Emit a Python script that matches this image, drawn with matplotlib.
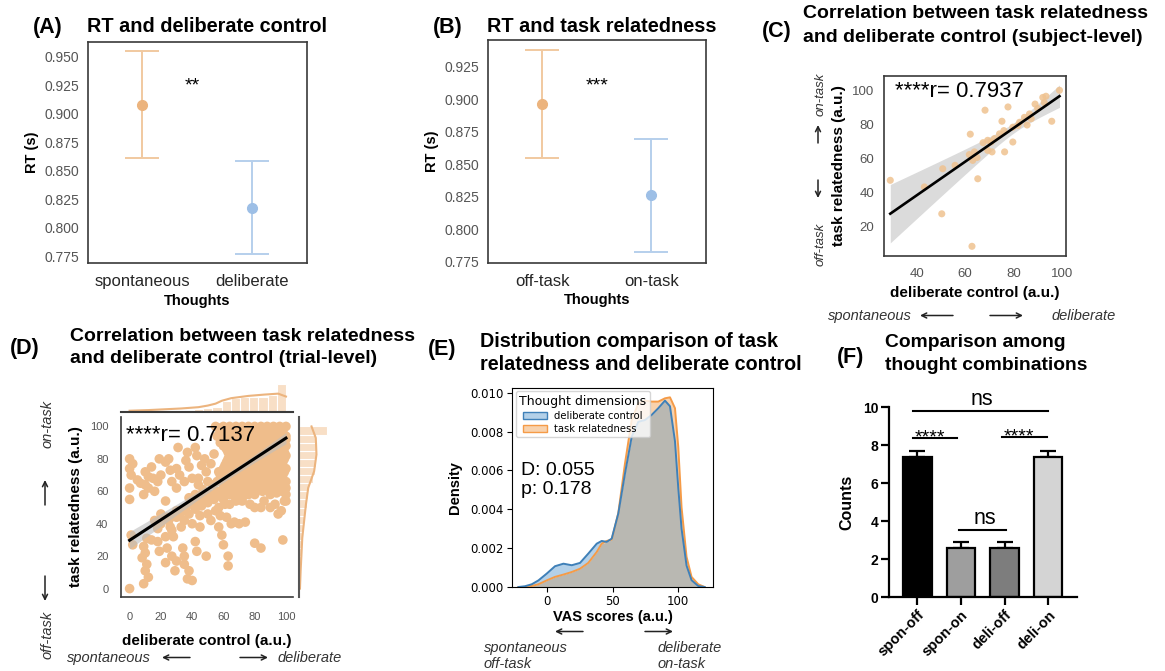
import numpy as np
import matplotlib.pyplot as plt
from matplotlib.patches import Patch, FancyArrowPatch

plt.rcParams['font.family'] = ['Liberation Sans', 'DejaVu Sans']

W, H = 1165, 671

# (A) RT split by deliberate control: mean and 95% CI
a_labels = ['spontaneous', 'deliberate']
a_mean = [0.908, 0.817]
a_lo = [0.861, 0.777]
a_hi = [0.955, 0.858]

# (B) RT split by task relatedness
b_labels = ['off-task', 'on-task']
b_mean = [0.896, 0.826]
b_lo = [0.8545, 0.7825]
b_hi = [0.938, 0.869]

# (C) subject-level means
c_x = [29.1, 43.2, 50.8, 50.4, 55.9, 62.2, 62.9, 61.8, 63.9, 63.2, 65.3, 65.0, 68.3,
       67.5, 69.4, 70.8, 69.4, 71.2, 76.4, 75.3, 77.8, 74.3, 76.1, 79.8, 79.8, 81.9,
       85.7, 84.6, 86.7, 89.0, 90.1, 92.2, 93.5, 95.9, 99.1, 87.4, 92.8, 72.2, 82.6]
c_y = [47.3, 43.4, 54.1, 27.6, 56.1, 74.4, 8.5, 62.4, 64.0, 59.0, 48.2, 60.7, 88.5,
       69.4, 70.8, 69.8, 64.9, 64.0, 64.0, 82.0, 90.4, 74.6, 76.5, 69.8, 78.5, 79.5,
       79.8, 84.3, 86.3, 92.1, 89.5, 96.0, 96.7, 82.0, 100.2, 83.5, 93.0, 71.8, 81.4]

# (D) trial-level ratings (deliberate control, task relatedness)
d_points = [
    (0, 80), (2, 77), (0, 74), (1, 70), (0, 62), (0, 55), (10, 72), (12, 69), (14, 75), (7, 65),
    (19, 80), (23, 78), (25, 80), (31, 87), (37, 84), (42, 87), (43, 82), (36, 79), (30, 74),
    (32, 70), (27, 66), (18, 66), (16, 60), (10, 64), (9, 58), (23, 54), (30, 62), (35, 66),
    (44, 64), (42, 58), (49, 72), (48, 80), (54, 83), (57, 72), (61, 72), (5, 67), (12, 62),
    (15, 68), (20, 70), (26, 73), (38, 75), (40, 68), (46, 76), (52, 77),
    (1, 33), (2, 27), (9, 26), (11, 31), (14, 30), (18, 29), (10, 22), (8, 19), (11, 15),
    (10, 11), (12, 7), (9, 3), (0, 0), (19, 23), (23, 16), (24, 25), (27, 20), (28, 32),
    (30, 17), (29, 11), (34, 25), (35, 20), (35, 15), (37, 6), (40, 5), (38, 11), (42, 29),
    (43, 23), (49, 20), (45, 38), (30, 44), (27, 36), (35, 42), (20, 46), (25, 42), (18, 37),
    (16, 42), (23, 32),
    (57, 38), (59, 33), (62, 44), (65, 40), (67, 41), (70, 40), (74, 41), (57, 50), (61, 52),
    (60, 27), (63, 20), (63, 14), (80, 28), (84, 25), (98, 30), (80, 50), (84, 50), (90, 50),
    (93, 52), (95, 46), (97, 48), (99, 54), (98, 60), (94, 59), (86, 54), (74, 58), (77, 52),
    (20, 40), (24, 44), (28, 45), (30, 48), (33, 47), (36, 50), (38, 46), (40, 52), (42, 49),
    (44, 54), (46, 51), (48, 56), (50, 53), (52, 58), (54, 55), (56, 60), (58, 57), (60, 62),
    (62, 59), (40, 40), (45, 45), (50, 46), (52, 42), (55, 48), (58, 45), (60, 55), (64, 52),
    (66, 58), (68, 55), (38, 56), (33, 38), (26, 38), (47, 61), (53, 64), (50, 66), (44, 68),
    (56, 66), (70, 60), (72, 56),
    (55, 100), (60, 100), (64, 100), (68, 100), (72, 100), (76, 100), (80, 100), (84, 100),
    (88, 100), (92, 100), (96, 100), (100, 100),
    (57, 99), (61, 99), (65, 99), (69, 99), (73, 99), (77, 99), (81, 99), (85, 99), (89, 99),
    (93, 99), (97, 99),
    (58, 97), (62, 97), (66, 97), (70, 97), (74, 97), (78, 97), (82, 97), (86, 97), (90, 97),
    (94, 97), (98, 97),
    (56, 94), (60, 94), (65, 94), (69, 94), (73, 94), (77, 94), (81, 94), (85, 94), (89, 94),
    (93, 94), (97, 94), (100, 94),
    (60, 92), (64, 92), (68, 92), (72, 92), (76, 92), (80, 92), (84, 92), (88, 92), (92, 92),
    (96, 92), (100, 92),
    (58, 90), (63, 90), (67, 90), (71, 90), (75, 90), (79, 90), (83, 90), (87, 90), (91, 90),
    (95, 90), (99, 90),
    (60, 88), (64, 88), (68, 88), (72, 88), (76, 88), (80, 88), (84, 88), (88, 88), (92, 88),
    (96, 88), (100, 88),
    (62, 86), (66, 86), (70, 86), (74, 86), (78, 86), (82, 86), (86, 86), (90, 86), (94, 86),
    (98, 86),
    (63, 84), (67, 84), (71, 84), (75, 84), (79, 84), (83, 84), (87, 84), (91, 84), (95, 84),
    (99, 84),
    (64, 82), (68, 82), (72, 82), (76, 82), (80, 82), (84, 82), (88, 82), (92, 82), (96, 82),
    (100, 82),
    (63, 80), (67, 80), (71, 80), (75, 80), (79, 80), (83, 80), (87, 80), (91, 80), (95, 80),
    (99, 80),
    (62, 78), (66, 78), (70, 78), (74, 78), (78, 78), (82, 78), (86, 78), (90, 78), (94, 78),
    (98, 78),
    (61, 76), (65, 76), (69, 76), (73, 76), (77, 76), (81, 76), (85, 76), (89, 76), (93, 76),
    (97, 76),
    (60, 74), (64, 74), (68, 74), (72, 74), (76, 74), (80, 74), (84, 74), (88, 74), (92, 74),
    (96, 74), (100, 74),
    (59, 72), (63, 72), (67, 72), (71, 72), (75, 72), (79, 72), (83, 72), (87, 72), (91, 72),
    (95, 72), (99, 72),
    (58, 70), (62, 70), (66, 70), (70, 70), (74, 70), (78, 70), (82, 70), (86, 70), (90, 70),
    (94, 70), (98, 70),
    (61, 68), (65, 68), (69, 68), (73, 68), (77, 68), (81, 68), (85, 68), (89, 68), (93, 68),
    (97, 68),
    (60, 66), (64, 66), (68, 66), (72, 66), (76, 66), (80, 66), (84, 66), (88, 66), (92, 66),
    (96, 66), (100, 66),
    (62, 64), (66, 64), (70, 64), (74, 64), (78, 64), (82, 64), (86, 64), (90, 64), (94, 64),
    (98, 64),
    (62, 62), (66, 62), (70, 62), (74, 62), (78, 62), (82, 62), (86, 62), (90, 62), (95, 62),
    (100, 62),
    (65, 60), (69, 60), (73, 60), (77, 60), (85, 60), (95, 60), (99, 60),
    (64, 58), (68, 58), (72, 58), (76, 58), (80, 58), (90, 58), (100, 58),
    (68, 54), (72, 54), (100, 54),
]
# fitted trial-level line (intercept, slope); most trials overlap in the upper-right cloud
d_fit = (29.8, 0.63)

# (D) marginal histograms (17 bins on x, 20 bins on y) and their kde outlines
top_counts = [5, 3, 3, 4, 4, 5, 6, 7, 10, 15, 32, 42, 47, 45, 47, 52, 87]
right_counts = [5, 4, 5, 6, 7, 8, 10, 12, 14, 16, 22, 25, 30, 40, 48, 50, 52, 50, 52, 84]
top_kde_x = [0, 12, 33, 44, 50, 55, 59, 65, 76, 86, 95, 100]
top_kde_h = [3, 5, 10, 14, 19, 25, 34, 42, 49, 53, 56, 47]
right_kde_y = [0, 10.7, 31.2, 51.7, 62.1, 72.4, 82.7, 92.9, 100]
right_kde_w = [2, 4, 9, 20, 27, 45, 52, 50, 37]

# (E) kernel density of the VAS ratings
e_x = [-21.5, -16.5, -11.4, -6.3, 0, 6.3, 12.7, 19, 25.3, 31.6, 38, 41.8, 45.6, 49.4, 54.4,
       59.5, 64.6, 69.6, 74.7, 79.7, 84.8, 89.9, 93.7, 97.5, 100, 102.5, 106.3, 110.1,
       115.2, 120]
e_dc = [0, 0.00004, 0.00014, 0.00034, 0.00069, 0.00107, 0.0012, 0.00112, 0.00124, 0.00172,
        0.00223, 0.00237, 0.00232, 0.00249, 0.00378, 0.00584, 0.00773, 0.0085, 0.00859,
        0.00885, 0.0092, 0.00959, 0.0093, 0.0075, 0.0051, 0.003, 0.0011, 0.00035, 0.00005, 0]
e_tr = [0, 0, 0.00005, 0.00014, 0.00034, 0.00052, 0.00064, 0.00077, 0.00094, 0.00124,
        0.0018, 0.00223, 0.00237, 0.00244, 0.0038, 0.00636, 0.00859, 0.00945, 0.00959,
        0.00954, 0.00954, 0.00971, 0.00976, 0.0092, 0.0072, 0.0041, 0.00155, 0.00052,
        0.00014, 0]

# (F) counts per thought combination (mean, sem)
f_labels = ['spon-off', 'spon-on', 'deli-off', 'deli-on']
f_mean = [7.4, 2.6, 2.6, 7.4]
f_sem = [0.3, 0.3, 0.3, 0.3]
f_colors = ['#000000', '#9e9e9e', '#7d7d7d', '#d4d4d4']


def rect(l, t, r, b):
    return [l / W, 1 - b / H, (r - l) / W, (b - t) / H]


fig = plt.figure(figsize=(W / 100, H / 100), dpi=100)


def ftext(x, y, s, **kw):
    kw.setdefault('va', 'baseline')
    fig.text(x / W, 1 - y / H, s, **kw)


def farrow(x0, y0, x1, y1):
    fig.add_artist(FancyArrowPatch((x0 / W, 1 - y0 / H), (x1 / W, 1 - y1 / H),
                                   transform=fig.transFigure, arrowstyle='->',
                                   mutation_scale=9, lw=1.1, color='#222222',
                                   shrinkA=0, shrinkB=0))


def seaborn_frame(ax, size=10):
    for s in ax.spines.values():
        s.set_color('#3a3a3a')
        s.set_linewidth(1.2)
    ax.tick_params(length=0, labelsize=size, labelcolor='#555555', pad=6)


ORANGE, ORANGE_E = '#ecb47e', '#f1c9a0'
BLUE, BLUE_E = '#9dbfe6', '#b6cfec'


def point_panel(ax, labels, mean, lo, hi, ylim, ticks):
    for i, (m, l, h) in enumerate(zip(mean, lo, hi)):
        ecol = ORANGE_E if i == 0 else BLUE_E
        col = ORANGE if i == 0 else BLUE
        ax.errorbar(i, m, yerr=[[m - l], [h - m]], fmt='none', ecolor=ecol,
                    elinewidth=1.4, capsize=12, capthick=1.4)
        ax.plot(i, m, 'o', color=col, ms=7)
    ax.set_xlim(-0.5, 1.5)
    ax.set_ylim(*ylim)
    ax.set_yticks(ticks)
    ax.set_yticklabels(['%.3f' % t for t in ticks])
    ax.set_xticks([0, 1])
    ax.set_xticklabels(labels)
    seaborn_frame(ax)
    ax.tick_params(axis='x', labelsize=12, labelcolor='#262626', pad=8)
    ax.set_xlabel('Thoughts', fontsize=10.5, fontweight='bold', labelpad=3)
    ax.set_ylabel('RT (s)', fontsize=10.5, fontweight='bold', labelpad=4)


# ---- A ----
axA = fig.add_axes(rect(87.7, 41.7, 306.7, 263.3))
point_panel(axA, a_labels, a_mean, a_lo, a_hi, (0.7686, 0.9632), np.arange(0.775, 0.951, 0.025))
axA.text(0.457, 0.920, '**', fontsize=14, ha='center', va='baseline')
ftext(33, 33.3, '(A)', fontsize=15.5, fontweight='bold')
ftext(86.7, 32.5, 'RT and deliberate control', fontsize=14.3, fontweight='bold')

# ---- B ----
axB = fig.add_axes(rect(487.7, 40, 706, 262.7))
point_panel(axB, b_labels, b_mean, b_lo, b_hi, (0.7742, 0.9455), np.arange(0.775, 0.926, 0.025))
axB.text(0.5, 0.9063, '***', fontsize=14, ha='center', va='baseline')
ftext(433, 33.3, '(B)', fontsize=15.5, fontweight='bold')
ftext(486.7, 32.5, 'RT and task relatedness', fontsize=14.3, fontweight='bold')


def jackknife_band(x, y, xs, z=1.96):
    # least-squares line with a leave-one-out (jackknife) confidence band
    x = np.asarray(x, float)
    y = np.asarray(y, float)
    n = len(x)
    slope, icpt = np.polyfit(x, y, 1)
    yh = icpt + slope * xs
    loo = []
    for i in range(n):
        keep = np.arange(n) != i
        s_i, c_i = np.polyfit(x[keep], y[keep], 1)
        loo.append(c_i + s_i * xs)
    loo = np.array(loo)
    se = np.sqrt((n - 1) / n * np.sum((loo - loo.mean(axis=0)) ** 2, axis=0))
    return yh, yh - z * se, yh + z * se


# ---- C ----
axC = fig.add_axes(rect(884, 76, 1066, 255.5))
axC.scatter(c_x, c_y, s=26, color='#efc290', edgecolors='none', alpha=0.85, zorder=2)
xs = np.linspace(min(c_x), max(c_x), 100)
yh, ylo, yhi = jackknife_band(c_x, c_y, xs)
axC.fill_between(xs, ylo, yhi, color='#cfcfcf', alpha=0.75, lw=0, zorder=1)
axC.plot(xs, yh, color='black', lw=1.9, zorder=3)
axC.set_xlim(26.5, 101.8)
axC.set_ylim(3.1, 108.6)
axC.set_xticks([40, 60, 80, 100])
axC.set_yticks([20, 40, 60, 80, 100])
seaborn_frame(axC, 9.5)
axC.tick_params(axis='x', pad=9)
axC.tick_params(axis='y', pad=7)
axC.set_xlabel('deliberate control (a.u.)', fontsize=11, fontweight='bold', labelpad=4)
axC.set_ylabel('task relatedness (a.u.)', fontsize=11, fontweight='bold', labelpad=4)
axC.text(0.06, 0.885, '****r= 0.7937', transform=axC.transAxes, fontsize=16, va='baseline')
ftext(762, 37.3, '(C)', fontsize=15.5, fontweight='bold')
ftext(803, 18.3, 'Correlation between task relatedness', fontsize=14, fontweight='bold')
ftext(803, 42, 'and deliberate control (subject-level)', fontsize=14, fontweight='bold')
ftext(828, 320, 'spontaneous', fontsize=10.5, style='italic', color='#333333')
farrow(953, 315.5, 920, 315.5)
farrow(990, 315.5, 1023, 315.5)
ftext(1052, 320, 'deliberate', fontsize=10.5, style='italic', color='#333333', ha='left')
ftext(821, 244, 'off-task', fontsize=9.5, style='italic', color='#333333', rotation=90,
      ha='center', va='center')
ftext(821, 94, 'on-task', fontsize=9.5, style='italic', color='#333333', rotation=90,
      ha='center', va='center')
farrow(818, 180, 818, 198)
farrow(818, 143, 818, 125)

# ---- D ----
d_x = np.array([p[0] for p in d_points], float)
d_y = np.array([p[1] for p in d_points], float)
axD = fig.add_axes(rect(121, 416.7, 293, 596.7))
axD.scatter(d_x, d_y, s=48, color='#efbd8b', edgecolors='none', zorder=2)
xs = np.linspace(0, 100, 100)
yh = d_fit[0] + d_fit[1] * xs
resid = d_y - (d_fit[0] + d_fit[1] * d_x)
s_res = np.sqrt(np.sum(resid ** 2) / (len(d_x) - 2))
se = s_res * np.sqrt(1 / len(d_x) + (xs - d_x.mean()) ** 2 / np.sum((d_x - d_x.mean()) ** 2))
axD.fill_between(xs, yh - 1.96 * se, yh + 1.96 * se, color='#bdbdbd', alpha=0.6, lw=0,
                 zorder=3)
axD.plot(xs, yh, color='black', lw=2.2, zorder=4)
axD.set_xlim(-5.5, 104.5)
axD.set_ylim(-5, 106)
axD.set_xticks([0, 20, 40, 60, 80, 100])
axD.set_yticks([0, 20, 40, 60, 80, 100])
seaborn_frame(axD, 8)
axD.spines['top'].set_visible(False)
axD.spines['right'].set_visible(False)
axD.tick_params(axis='x', pad=11)
axD.tick_params(axis='y', pad=9)
axD.set_xlabel('deliberate control (a.u.)', fontsize=11, fontweight='bold', labelpad=9)
axD.set_ylabel('task relatedness (a.u.)', fontsize=11, fontweight='bold', labelpad=5)
axD.text(0.03, 0.865, '****r= 0.7137', transform=axD.transAxes, fontsize=16,
         va='baseline', zorder=5)

axDt = fig.add_axes(rect(121, 383, 293, 411.7))
edges = np.linspace(0, 100, len(top_counts) + 1)
axDt.bar(edges[:-1], top_counts, width=np.diff(edges), align='edge', color='#f8dfc6',
         edgecolor='white', lw=0.8)
axDt.plot(top_kde_x, top_kde_h, color='#ecb47e', lw=1.5)
axDt.set_xlim(-5.5, 104.5)
axDt.set_ylim(0, 89)
axDt.axis('off')
axDt.plot([0, 1], [0, 0], transform=axDt.transAxes, color='#3a3a3a', lw=1.5, clip_on=False)

axDr = fig.add_axes(rect(299.3, 416.7, 329, 596.7))
edges = np.linspace(0, 100, len(right_counts) + 1)
axDr.barh(edges[:-1], right_counts, height=np.diff(edges), align='edge', color='#f8dfc6',
          edgecolor='white', lw=0.8)
axDr.plot(right_kde_w, right_kde_y, color='#ecb47e', lw=1.5)
axDr.set_ylim(-5, 106)
axDr.set_xlim(0, 90)
axDr.axis('off')
axDr.plot([0, 0], [0, 1], transform=axDr.transAxes, color='#555555', lw=1.5, clip_on=False)

ftext(10, 354, '(D)', fontsize=15.5, fontweight='bold')
ftext(70, 341, 'Correlation between task relatedness', fontsize=14, fontweight='bold')
ftext(70, 363.3, 'and deliberate control (trial-level)', fontsize=14, fontweight='bold')
ftext(67, 662, 'spontaneous', fontsize=10.5, style='italic', color='#333333')
farrow(190, 657.5, 162, 657.5)
farrow(240, 657.5, 268, 657.5)
ftext(278, 662, 'deliberate', fontsize=10.5, style='italic', color='#333333')
ftext(48, 424, 'on-task', fontsize=10.5, style='italic', color='#333333', rotation=90,
      ha='center', va='center')
ftext(48, 635, 'off-task', fontsize=10.5, style='italic', color='#333333', rotation=90,
      ha='center', va='center')
farrow(45, 505, 45, 480)
farrow(45, 576, 45, 601)

# ---- E ----
axE = fig.add_axes(rect(512, 388, 713, 587))
e_x = np.array(e_x)
e_dc = np.array(e_dc)
e_tr = np.array(e_tr)
both = np.minimum(e_dc, e_tr)
axE.fill_between(e_x, 0, both, color='#b9b8b2', lw=0)
axE.fill_between(e_x, e_tr, e_dc, where=e_dc > e_tr, interpolate=True, color='#b3d0e8', lw=0)
axE.fill_between(e_x, e_dc, e_tr, where=e_tr > e_dc, interpolate=True, color='#f8d2ad', lw=0)
axE.plot(e_x, e_tr, color='#f59b47', lw=1.4)
axE.plot(e_x, e_dc, color='#3f80b8', lw=1.4)
axE.set_xlim(-26.4, 126.4)
axE.set_ylim(0, 0.01024)
axE.set_xticks([0, 50, 100])
yt = np.arange(0, 0.0101, 0.002)
axE.set_yticks(yt)
axE.set_yticklabels(['%.3f' % t for t in yt])
axE.tick_params(labelsize=8.5, pad=2.5)
for lbl in axE.get_xticklabels() + axE.get_yticklabels():
    lbl.set_fontfamily('DejaVu Sans')
axE.set_xlabel('VAS scores (a.u.)', fontsize=10.5, fontweight='bold', labelpad=1)
axE.set_ylabel('Density', fontsize=10.5, fontweight='bold', labelpad=6)
handles = [Patch(facecolor='#b3d0e8', edgecolor='#3f80b8', label='deliberate control'),
           Patch(facecolor='#f8d2ad', edgecolor='#f59b47', label='task relatedness')]
axE.legend(handles=handles, title='Thought dimensions', loc='upper left',
           prop={'family': 'DejaVu Sans', 'size': 7.2},
           title_fontproperties={'family': 'DejaVu Sans', 'size': 9},
           borderpad=0.35, labelspacing=0.3, handlelength=2.4, handletextpad=0.7,
           borderaxespad=0.35)
axE.text(0.045, 0.536, 'D: 0.055\np: 0.178', transform=axE.transAxes, fontsize=14,
         va='center', linespacing=1.15)
ftext(428, 355, '(E)', fontsize=15.5, fontweight='bold')
ftext(480, 346.7, 'Distribution comparison of task', fontsize=14.2, fontweight='bold')
ftext(480, 370, 'relatedness and deliberate control', fontsize=14.2, fontweight='bold')
farrow(583, 631.5, 555, 631.5)
farrow(645, 631.5, 673, 631.5)
ftext(484, 652, 'spontaneous', fontsize=10.5, style='italic', color='#333333')
ftext(484, 668, 'off-task', fontsize=10.5, style='italic', color='#333333')
ftext(658, 652, 'deliberate', fontsize=10.5, style='italic', color='#333333')
ftext(658, 668, 'on-task', fontsize=10.5, style='italic', color='#333333')

# ---- F ----
axF = fig.add_axes(rect(889, 407.3, 1077, 597.3))
xpos = np.arange(len(f_labels))
axF.bar(xpos, f_mean, width=0.65, color=f_colors, edgecolor='black', lw=1.6, zorder=2)
axF.errorbar(xpos, f_mean, yerr=[np.zeros(4), f_sem], fmt='none', ecolor='black',
             elinewidth=1.6, capsize=5.5, capthick=1.6, zorder=1)
axF.set_xlim(-0.65, 3.66)
axF.set_ylim(0, 10)
axF.set_yticks([0, 2, 4, 6, 8, 10])
axF.set_xticks(xpos)
axF.set_xticklabels(f_labels, rotation=45, ha='right', rotation_mode='anchor')
for s in ['top', 'right']:
    axF.spines[s].set_visible(False)
for s in ['left', 'bottom']:
    axF.spines[s].set_linewidth(1.6)
axF.tick_params(direction='out', length=5.5, width=1.6, labelsize=10, pad=2)
for lbl in axF.get_xticklabels() + axF.get_yticklabels():
    lbl.set_fontweight('bold')
axF.tick_params(axis='x', labelsize=10.5)
axF.set_ylabel('Counts', fontsize=11.5, fontweight='bold', labelpad=6)

sig = [(-0.1, 3.0, 9.83, 'ns', 'center'), (-0.09, 0.92, 8.37, '****', 'left'),
       (1.95, 2.98, 8.42, '****', 'left'), (0.96, 2.04, 3.54, 'ns', 'center')]
for x0, x1, yl, lab, ha in sig:
    axF.plot([x0, x1], [yl, yl], color='black', lw=1.5, clip_on=False)
    if ha == 'center':
        axF.text((x0 + x1) / 2 + 0.04, yl + 0.3, lab, fontsize=15.5, ha='center',
                 va='baseline', clip_on=False)
    else:
        axF.text(x0 + 0.02, yl - 0.2, lab, fontsize=14, ha='left', va='baseline')
ftext(837, 362.7, '(F)', fontsize=15.5, fontweight='bold')
ftext(885, 346.7, 'Comparison among', fontsize=13.9, fontweight='bold')
ftext(885, 370, 'thought combinations', fontsize=13.9, fontweight='bold')

fig.savefig('out.png', dpi=100)
